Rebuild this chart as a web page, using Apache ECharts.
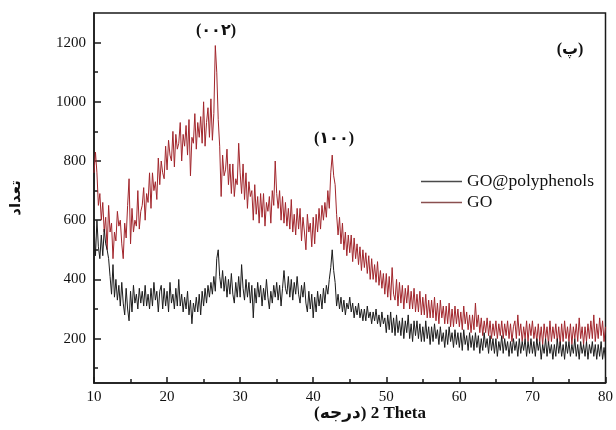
<!DOCTYPE html>
<html>
<head>
<meta charset="utf-8">
<script src="https://cdn.jsdelivr.net/npm/echarts@6/dist/echarts.min.js"></script>
<style>
  html, body { margin: 0; padding: 0; background: #fff; }
  #chart { width: 616px; height: 430px; }
</style>
</head>
<body>
<div id="chart"></div>
<script>
// XRD patterns, intensity sampled every 0.2 degree of 2θ from 10 to 80
const startAngle = 10;
const angleStep = 0.2;

const goCounts = [
  760, 830, 760, 650, 690,
  600, 660, 560, 610, 500,
  650, 560, 590, 470, 560,
  530, 630, 580, 600, 520,
  470, 590, 540, 650, 740,
  520, 640, 560, 600, 580,
  700, 570, 630, 650, 710,
  600, 690, 660, 760, 640,
  760, 700, 730, 670, 810,
  720, 800, 760, 740, 850,
  770, 870, 820, 800, 900,
  780, 890, 840, 860, 930,
  800, 890, 850, 920, 820,
  940, 750, 880, 860, 960,
  840, 930, 880, 950, 860,
  1000, 850, 930, 980, 880,
  1010, 870, 960, 1190, 1100,
  940, 850, 680, 820, 750,
  770, 840, 720, 790, 690,
  790, 680, 740, 720, 860,
  760, 690, 790, 670, 760,
  640, 730, 680, 700, 600,
  720, 620, 680, 590, 690,
  610, 690, 580, 660, 630,
  680, 590, 700, 650, 800,
  690, 640, 700, 600, 680,
  590, 660, 580, 640, 570,
  670, 560, 620, 550, 640,
  570, 640, 530, 610, 560,
  500, 620, 560, 590, 510,
  610, 520, 620, 560, 640,
  570, 650, 600, 660, 610,
  700, 640, 760, 820, 750,
  720, 620, 550, 610, 520,
  590, 500, 560, 480, 550,
  490, 550, 460, 540, 470,
  520, 450, 510, 430, 500,
  440, 490, 420, 480, 400,
  470, 400, 450, 390, 460,
  380, 430, 370, 420, 350,
  420, 340, 410, 330, 440,
  350, 330, 400, 310, 390,
  320, 380, 300, 370, 320,
  380, 300, 360, 300, 370,
  290, 350, 290, 360, 280,
  340, 280, 350, 270, 330,
  270, 330, 270, 340, 260,
  320, 250, 330, 270, 310,
  250, 310, 250, 320, 240,
  300, 240, 310, 250, 300,
  240, 290, 230, 310, 250,
  290, 230, 280, 220, 280,
  230, 320, 240, 280, 220,
  270, 210, 260, 220, 270,
  210, 260, 200, 250, 210,
  260, 200, 250, 210, 260,
  200, 250, 210, 260, 200,
  250, 190, 240, 260, 200,
  280, 210, 250, 190, 240,
  200, 260, 190, 250, 210,
  260, 200, 240, 190, 250,
  190, 240, 180, 250, 200,
  240, 180, 260, 190, 240,
  200, 250, 190, 240, 180,
  250, 190, 260, 200, 240,
  190, 250, 180, 240, 200,
  250, 190, 270, 200, 240,
  180, 240, 190, 250, 200,
  260, 200, 280, 190, 250,
  200, 270, 210, 260, 190,
  240
];

const goPolyCounts = [
  580, 480, 600, 510, 470,
  550, 480, 570, 520, 500,
  470, 410, 350, 450, 340,
  400, 330, 380, 310, 390,
  320, 280, 370, 300, 260,
  360, 290, 380, 320, 350,
  300, 370, 320, 360, 310,
  380, 310, 350, 300, 370,
  310, 390, 330, 360, 290,
  360, 380, 300, 370, 310,
  360, 290, 390, 320, 350,
  300, 370, 310, 400, 310,
  350, 290, 340, 300, 360,
  280, 330, 250, 320, 290,
  340, 290, 350, 280, 360,
  310, 370, 320, 380, 340,
  390, 350, 410, 360, 470,
  500, 410, 370, 430, 360,
  410, 340, 400, 350, 420,
  350, 320, 390, 340, 410,
  340, 450, 370, 330, 400,
  340, 390, 320, 380, 270,
  370, 320, 390, 340, 380,
  310, 370, 330, 400, 340,
  300, 360, 320, 380, 340,
  390, 330, 380, 310, 370,
  430, 370, 350, 410, 340,
  400, 330, 390, 350, 410,
  350, 320, 380, 340, 390,
  320, 290, 360, 300, 350,
  270, 340, 290, 360, 310,
  350, 300, 370, 320, 380,
  350, 400, 440, 500, 430,
  390, 310, 350, 300, 340,
  290, 330, 280, 320, 300,
  340, 290, 320, 270, 310,
  280, 320, 270, 300, 260,
  300, 260, 310, 270, 290,
  250, 290, 260, 300, 250,
  280, 240, 290, 250, 270,
  220, 280, 230, 290, 220,
  270, 210, 280, 220, 260,
  210, 270, 200, 260, 220,
  280, 200, 250, 190, 260,
  210, 260, 200, 250, 190,
  240, 190, 260, 200, 240,
  180, 240, 190, 250, 200,
  230, 180, 240, 190, 220,
  170, 230, 180, 240, 190,
  220, 170, 230, 180, 220,
  170, 220, 160, 230, 180,
  210, 160, 220, 170, 210,
  160, 220, 170, 210, 150,
  200, 160, 220, 170, 200,
  150, 210, 160, 200, 150,
  200, 140, 190, 160, 210,
  150, 200, 160, 190, 140,
  190, 150, 200, 160, 190,
  140, 200, 150, 190, 160,
  200, 140, 190, 150, 200,
  150, 190, 140, 200, 160,
  190, 130, 180, 150, 200,
  140, 190, 150, 180, 130,
  180, 140, 200, 150, 190,
  140, 180, 130, 190, 150,
  190, 140, 180, 150, 200,
  140, 180, 130, 190, 150,
  180, 140, 190, 130, 180,
  150, 190, 140, 180, 130,
  180, 140, 190, 130, 170,
  130
];

const xTickLabels = [10, 20, 30, 40, 50, 60, 70, 80];
const yLabelValues = [200, 400, 600, 800, 1000, 1200];
const yMinorValues = [100, 300, 500, 700, 900, 1100];

const seriesNames = ['GO@polyphenols', 'GO'];

const serif = "'Liberation Serif', 'Times New Roman', 'DejaVu Sans', serif";
const mixedFont = "'Liberation Serif', 'DejaVu Sans', serif";

function toPairs(values) {
  return values.map((v, i) => [+(startAngle + i * angleStep).toFixed(1), v]);
}

const chart = echarts.init(document.getElementById('chart'), null, { renderer: 'canvas' });

const axisLine = { show: true, lineStyle: { color: '#1a1a1a', width: 1.5 } };
const plainNumber = (v) => String(v);

chart.setOption({
  animation: false,
  backgroundColor: '#ffffff',
  grid: {
    left: 94, right: 8, top: 13, bottom: 47,
    show: true, borderColor: '#1a1a1a', borderWidth: 1.5, backgroundColor: 'transparent'
  },
  xAxis: {
    type: 'value',
    min: xTickLabels[0],
    max: xTickLabels[xTickLabels.length - 1],
    interval: 10,
    axisLine: axisLine,
    axisTick: { show: true, inside: true, length: 6, lineStyle: { color: '#1a1a1a', width: 1.5 } },
    minorTick: { show: true, splitNumber: 2, length: 4, lineStyle: { color: '#1a1a1a', width: 1.5 } },
    axisLabel: { margin: 7, fontFamily: serif, fontSize: 15, color: '#111', formatter: plainNumber },
    splitLine: { show: false },
    minorSplitLine: { show: false }
  },
  yAxis: [
    {
      type: 'value',
      min: 50,
      max: 1300,
      axisLine: axisLine,
      axisTick: { show: true, inside: true, length: 7, customValues: yLabelValues,
        lineStyle: { color: '#1a1a1a', width: 1.5 } },
      axisLabel: { margin: 8, customValues: yLabelValues, fontFamily: serif, fontSize: 15,
        color: '#111', formatter: plainNumber },
      splitLine: { show: false }
    },
    {
      type: 'value',
      min: 50,
      max: 1300,
      position: 'left',
      axisLine: { show: false },
      axisTick: { show: true, inside: true, length: 4, customValues: yMinorValues,
        lineStyle: { color: '#1a1a1a', width: 1.5 } },
      axisLabel: { show: false },
      splitLine: { show: false }
    }
  ],
  legend: {
    orient: 'vertical',
    left: 421,
    top: 171,
    padding: 0,
    itemGap: 0,
    itemWidth: 41,
    itemHeight: 1.5,
    icon: 'rect',
    textStyle: { fontFamily: serif, fontSize: 17.5, color: '#111', lineHeight: 21 },
    data: [
      { name: seriesNames[0], itemStyle: { color: '#4a4a4a' } },
      { name: seriesNames[1], itemStyle: { color: '#8a4f4f' } }
    ]
  },
  series: [
    {
      name: seriesNames[1],
      type: 'line',
      showSymbol: false,
      data: toPairs(goCounts),
      lineStyle: { color: '#a2262c', width: 1 },
      itemStyle: { color: '#a2262c' },
      z: 2
    },
    {
      name: seriesNames[0],
      type: 'line',
      showSymbol: false,
      data: toPairs(goPolyCounts),
      lineStyle: { color: '#1c1c1c', width: 1 },
      itemStyle: { color: '#1c1c1c' },
      z: 3
    }
  ],
  graphic: [
    {
      type: 'text',
      position: [370, 414],
      style: { text: '(درجه)\u200E 2 Theta', align: 'center', verticalAlign: 'middle',
        font: 'bold 17px ' + mixedFont, fill: '#111' }
    },
    {
      type: 'text',
      position: [16, 198],
      rotation: Math.PI / 2,
      style: { text: 'تعداد', align: 'center', verticalAlign: 'middle',
        font: 'bold 15px ' + mixedFont, fill: '#111' }
    },
    {
      type: 'text',
      position: [216, 31],
      style: { text: '(۰۰۲)', align: 'center', verticalAlign: 'middle',
        font: 'bold 16px ' + mixedFont, fill: '#111' }
    },
    {
      type: 'text',
      position: [334, 139],
      style: { text: '(۱۰۰)', align: 'center', verticalAlign: 'middle',
        font: 'bold 16px ' + mixedFont, fill: '#111' }
    },
    {
      type: 'text',
      position: [570, 50],
      style: { text: '(پ)', align: 'center', verticalAlign: 'middle',
        font: 'bold 16px ' + mixedFont, fill: '#111' }
    }
  ]
});
</script>
</body>
</html>
